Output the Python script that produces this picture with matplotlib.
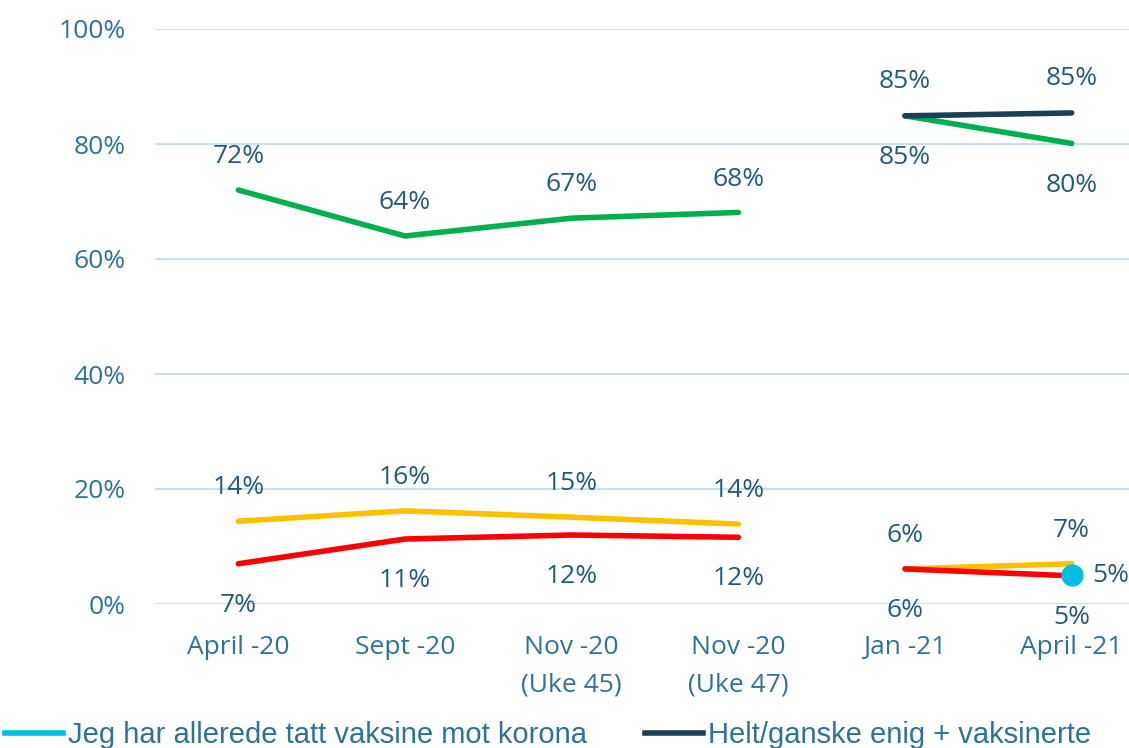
"""Line chart: vaccine attitude survey, 2020-2021"""
import matplotlib
matplotlib.use('Agg')
import matplotlib.pyplot as plt
from matplotlib.lines import Line2D
import numpy as np

# data
categories = ["April -20", "Sept -20", "Nov -20\n(Uke 45)", "Nov -20\n(Uke 47)", "Jan -21", "April -21"]
green_2020 = [72.0, 64.0, 67.1, 68.1]
green_2021 = [84.9, 80.1]
yellow_2020 = [14.4, 16.2, 15.1, 13.9]
yellow_2021 = [6.1, 7.0]
red_2020 = [7.0, 11.3, 12.0, 11.6]
red_2021 = [6.1, 4.9]
dark_2021 = [84.9, 85.4]
cyan_2021 = [5.0]
legend_labels = ["Jeg har allerede tatt vaksine mot korona", "Helt/ganske enig + vaksinerte"]

# styling
c_green = '#00B050'
c_yellow = '#FFC000'
c_red = '#FF0000'
c_dark = '#1B3F55'
c_cyan = '#00BDE2'
c_tick = '#2F7198'
c_lab = '#215A7A'
c_grid = '#CCDFEF'
lw = 4.0
lab_fs = 19
tick_fs = 19

plt.rcParams['font.family'] = ['Open Sans', 'DejaVu Sans']

fig = plt.figure(figsize=(11.29, 7.48), dpi=100, facecolor='w')
ax = fig.add_axes([155/1129, 1-604/748, 1000/1129, 575/748])

x20 = np.arange(4)
x21 = np.arange(4, 6)

ax.plot(x20, green_2020, color=c_green, lw=lw, solid_capstyle='round')
ax.plot(x21, green_2021, color=c_green, lw=lw, solid_capstyle='round')
ax.plot(x20, yellow_2020, color=c_yellow, lw=lw, solid_capstyle='round')
ax.plot(x21, yellow_2021, color=c_yellow, lw=lw, solid_capstyle='round')
ax.plot(x20, red_2020, color=c_red, lw=lw, solid_capstyle='round')
ax.plot(x21, red_2021, color=c_red, lw=lw, solid_capstyle='round')
ax.plot(x21, dark_2021, color=c_dark, lw=lw, solid_capstyle='round')
ax.plot([5], cyan_2021, 'o', color=c_cyan, ms=15, mec=c_cyan)

def labels(xs, ys, dy, dx=0, ha='center'):
    for xv, yv in zip(xs, ys):
        ax.annotate(f"{round(yv)}%", (xv, yv), xytext=(dx, dy), textcoords='offset points',
                    ha=ha, va='center', fontsize=lab_fs, color=c_lab, clip_on=False)

labels(x20, green_2020, 24)
labels(x21, green_2021, -30)
labels(x20, yellow_2020, 24)
labels(x21, yellow_2021, 24)
labels(x20, red_2020, -30)
labels(x21, red_2021, -30)
labels(x21, dark_2021, 25)
labels([5], cyan_2021, 0, dx=15, ha='left')

ax.set_xlim(-0.5, 5.5)
ax.set_ylim(0, 100)
ax.set_yticks(np.arange(0, 101, 20))
ax.set_yticklabels([f"{v}%" for v in range(0, 101, 20)])
ax.set_xticks(np.arange(len(categories)))
ax.set_xticklabels(categories, linespacing=1.7, va='top')
ax.grid(axis='y', color=c_grid, lw=1.5)
ax.set_axisbelow(True)
for s in ax.spines.values():
    s.set_visible(False)
ax.tick_params(axis='y', length=0, pad=21, labelsize=tick_fs, labelcolor=c_tick)
ax.tick_params(axis='x', length=0, pad=22, labelsize=tick_fs, labelcolor=c_tick)

handles = [Line2D([], [], color=c_cyan, lw=lw), Line2D([], [], color=c_dark, lw=lw)]
fig.legend(handles, legend_labels, loc='center left', bbox_to_anchor=(5/1129, 1-735/748),
           ncol=2, frameon=False, handlelength=2.0, handletextpad=0.15, columnspacing=2.0,
           borderaxespad=0, borderpad=0,
           prop={'family': ['Liberation Sans', 'DejaVu Sans'], 'size': 21},
           labelcolor=c_tick)

fig.savefig('out.png', dpi=100, facecolor='w')
